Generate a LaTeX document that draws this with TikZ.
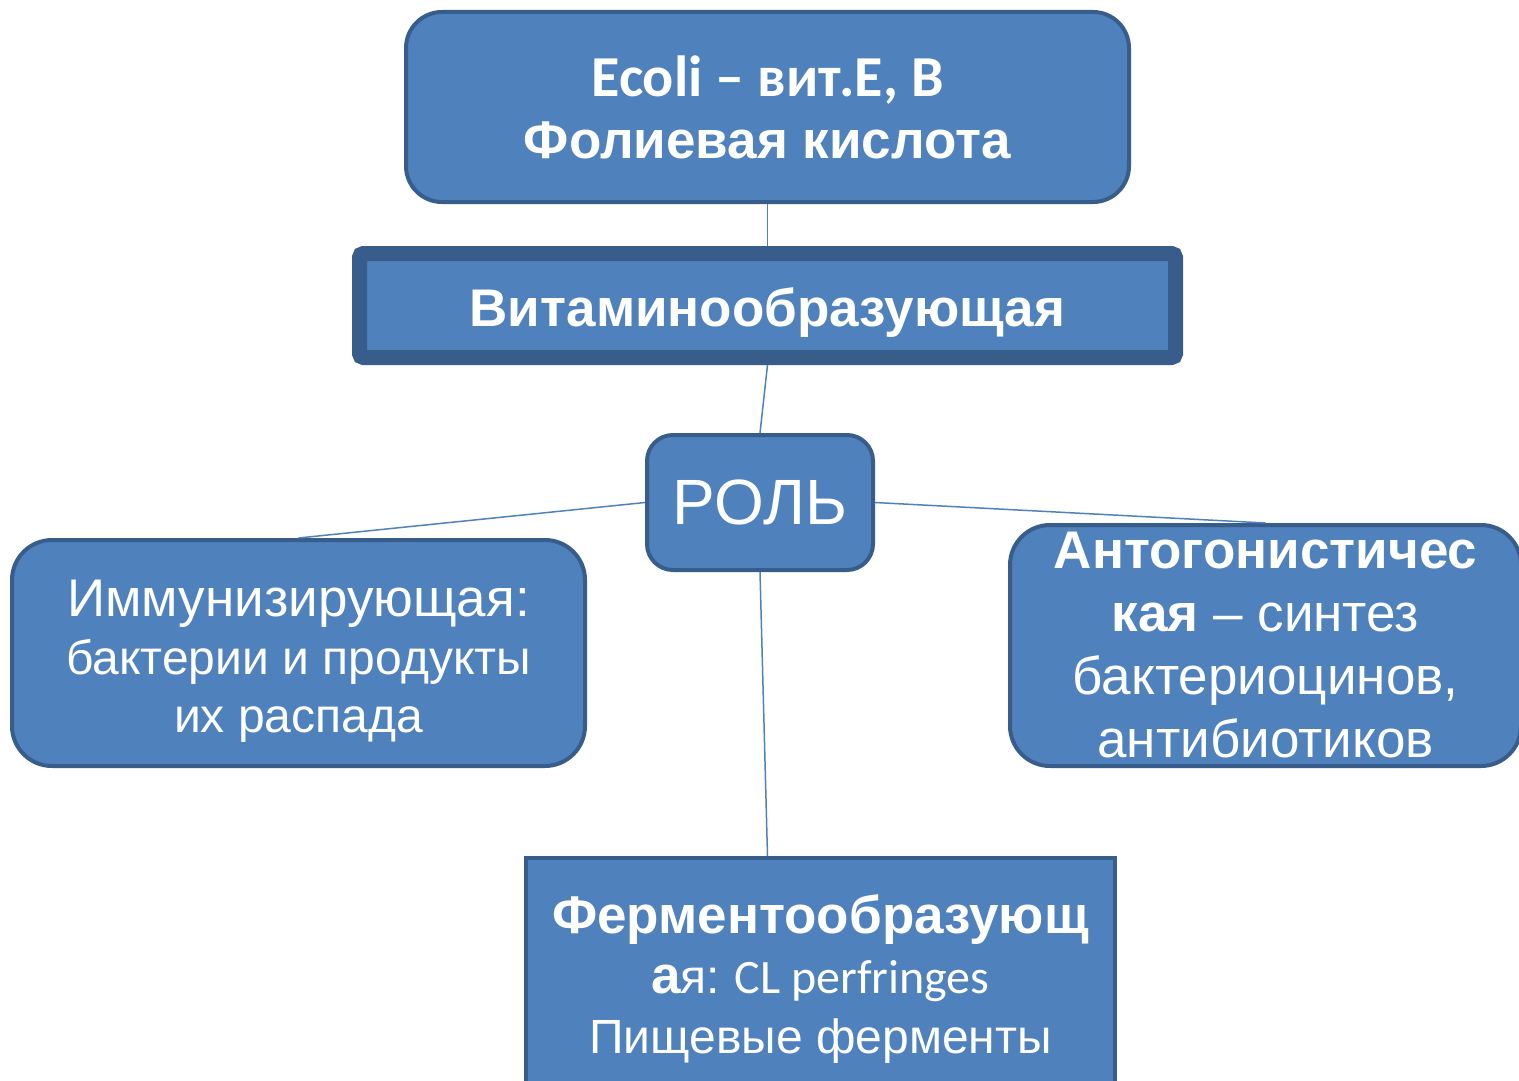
\documentclass[tikz,border=0pt]{standalone}
\usepackage{fontspec}
\setmainfont{Liberation Sans}
\newfontfamily\calibri{Carlito}
\usetikzlibrary{calc,positioning}

\definecolor{boxfill}{HTML}{4F81BD}
\definecolor{boxline}{HTML}{385D8A}

\newcommand{\bigline}{\fontsize{53}{62}\selectfont}

\tikzset{
	rolebox/.style={draw=boxline, fill=boxfill, line width=4pt, rounded corners=40pt,
		text=white, align=center, inner sep=0pt},
	link/.style={draw=boxfill, line width=1.5pt}
}

\begin{document}
\begin{tikzpicture}[x=1pt, y=-1pt]
	\clip (0,0) rectangle (1519,1081);

	% Boxes
	\node[rolebox, minimum width=723pt, minimum height=190pt, rounded corners=36pt,
		font=\fontsize{53}{62}\selectfont] (eco) at (767.5,107)
		{{\fontsize{58}{62}\selectfont\calibri\bfseries Ecoli – вит.Е, В}\\ \textbf{Фолиевая кислота}};
	\node[rolebox, line width=15pt, rounded corners=4pt, minimum width=816pt, minimum height=104pt,
		text height=46pt, text depth=5pt,
		font=\fontsize{53}{60}\selectfont\bfseries] (vit) at (767.5,305.5) {Витаминообразующая};
	\node[rolebox, minimum width=226pt, minimum height=135pt, rounded corners=26pt,
		font=\fontsize{64}{70}\selectfont] (role) at (760,502.5) {РОЛЬ};
	\node[rolebox, minimum width=573pt, minimum height=226pt,
		font=\fontsize{48}{58}\selectfont] (immun) at (298.5,653)
		{{\bigline\rule{0pt}{53pt}Иммунизирующая:}\\ бактерии и продукты\\ их распада};
	\node[rolebox, minimum width=511pt, minimum height=241pt,
		font=\fontsize{53}{63}\selectfont] (antag) at (1265.5,645.5)
		{\textbf{Антогонистичес}\\ \textbf{кая} – синтез\\ бактериоцинов,\\ антибиотиков};
	\node[rolebox, rounded corners=0pt, minimum width=589pt, minimum height=242pt,
		font=\fontsize{48}{60}\selectfont] (ferm) at (820.5,979)
		{{\bigline\bfseries Ферментообразующ}\\ {\bigline\bfseries а}я:{\calibri{} CL perfringes}\\ Пищевые ферменты};

	% Connectors
	\draw[link] (eco.south) -- (vit.north);
	\draw[link] (vit.south) -- (role.north);
	\draw[link] (role.west) -- (immun.north);
	\draw[link] (role.east) -- (antag.north);
	\draw[link] (role.south) -- (eco.south |- ferm.north);
\end{tikzpicture}
\end{document}
